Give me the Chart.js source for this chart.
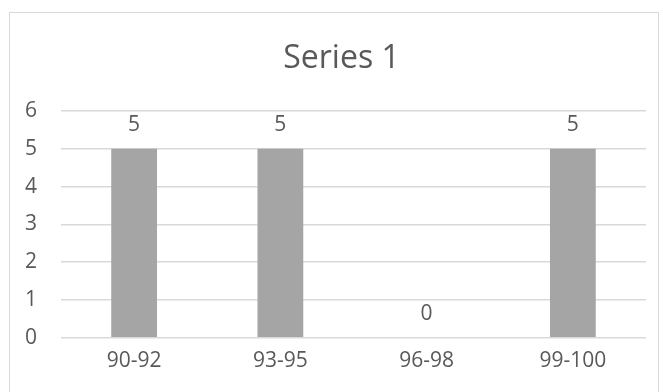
<!DOCTYPE html>
<html>
<head>
<meta charset="utf-8">
<script src="https://cdn.jsdelivr.net/npm/chart.js@4.4.1/dist/chart.umd.min.js"></script>
<style>
  html, body { margin: 0; padding: 0; background: #fff; }
  #wrap { position: relative; width: 663px; height: 392px; overflow: hidden; }
  #frame { position: absolute; left: 9px; top: 12px; width: 650px; height: 420px; border: 1px solid #d9d9d9; box-sizing: border-box; }
  #chart { position: absolute; left: 0; top: 0; }
</style>
</head>
<body>
<div id="wrap">
  <div id="frame"></div>
  <canvas id="chart" width="663" height="392"></canvas>
</div>
<script>
const categories = ['90-92', '93-95', '96-98', '99-100'];
const counts = [5, 5, 0, 5];
const yTicks = [0, 1, 2, 3, 4, 5, 6];
const chartTitle = 'Series 1';

const textColor = '#595959';
const fontFamily = "'Open Sans', 'Noto Sans', sans-serif";

// value labels above each bar
const valueLabels = {
    id: 'valueLabels',
    afterDatasetsDraw(chart) {
        const ctx = chart.ctx;
        const meta = chart.getDatasetMeta(0);
        ctx.save();
        ctx.fillStyle = textColor;
        ctx.font = '21px ' + fontFamily;
        ctx.textAlign = 'center';
        ctx.textBaseline = 'middle';
        meta.data.forEach((bar, i) => {
            ctx.fillText(String(counts[i]), bar.x, bar.y - 24);
        });
        ctx.restore();
    }
};

// title sits over the frame, slightly right of the plot centre
const frameTitle = {
    id: 'frameTitle',
    afterDraw(chart) {
        const ctx = chart.ctx;
        const area = chart.chartArea;
        ctx.save();
        ctx.fillStyle = textColor;
        ctx.font = '32px ' + fontFamily;
        ctx.textAlign = 'center';
        ctx.textBaseline = 'middle';
        ctx.fillText(chartTitle, (area.left + area.right) / 2 - 12, area.top - 52);
        ctx.restore();
    }
};

const ctx = document.getElementById('chart').getContext('2d');
new Chart(ctx, {
    type: 'bar',
    data: {
        labels: categories,
        datasets: [{
            label: chartTitle,
            data: counts,
            backgroundColor: '#a5a5a5',
            borderWidth: 0,
            barPercentage: 1,
            categoryPercentage: 0.313
        }]
    },
    options: {
        responsive: false,
        animation: false,
        layout: { padding: { left: 0, right: 17, top: 111, bottom: 15 } },
        plugins: {
            legend: { display: false },
            tooltip: { enabled: false },
            title: { display: false }
        },
        scales: {
            x: {
                grid: { display: false },
                border: { display: false },
                ticks: {
                    color: textColor,
                    font: { family: fontFamily, size: 21 },
                    padding: 3
                }
            },
            y: {
                min: 0,
                max: 6,
                afterBuildTicks(axis) {
                    axis.ticks = yTicks.map(v => ({ value: v }));
                },
                afterFit(axis) {
                    axis.width = 61;
                },
                grid: { color: '#d9d9d9', lineWidth: 1.5, drawTicks: false },
                border: { display: false },
                ticks: {
                    color: textColor,
                    font: { family: fontFamily, size: 21 },
                    padding: 24
                }
            }
        }
    },
    plugins: [valueLabels, frameTitle]
});
</script>
</body>
</html>
